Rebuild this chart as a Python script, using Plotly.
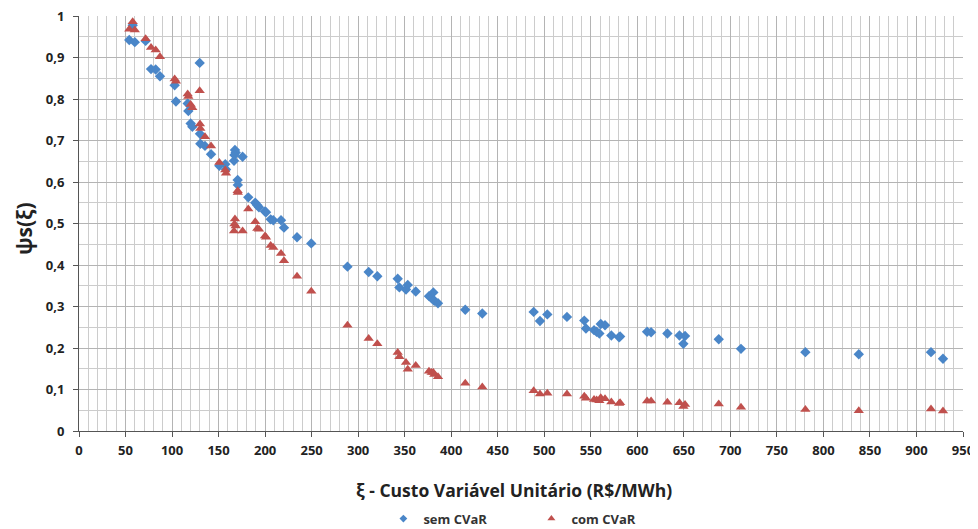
import plotly.graph_objects as go

# Custo variável unitário (R$/MWh)
xi = [54, 57.7, 60, 71.6, 77.4, 82.4, 87, 102.8, 104.2, 116.8,
      117.5, 120, 121.8, 129.7, 130, 130.4, 135.4, 141.9, 150.8, 157.2,
      158, 166.6, 167.6, 168.4, 167, 170.5, 170.7, 175.8, 181.9, 189.4,
      191.6, 193.4, 199.9, 201, 206, 208.8, 217.1, 220.3, 234.3, 249.6,
      288.5, 311.3, 320.6, 342.5, 344.3, 351.4, 353.3, 361.9, 376.1, 379,
      380.8, 381.8, 385.8, 415.1, 433.4, 488.6, 495.4, 503.3, 524.4, 543,
      544.8, 553.5, 556.3, 559.2, 560.7, 565.3, 572.1, 580.4, 581.5, 610.5,
      614.8, 632.3, 645.3, 649.5, 651.3, 687.5, 711.4, 780.6, 838, 915.6,
      928.5]

sem_cvar = [0.942, 0.978, 0.937, 0.940, 0.872, 0.871, 0.855, 0.833, 0.794, 0.789,
            0.771, 0.741, 0.733, 0.887, 0.716, 0.692, 0.687, 0.667, 0.639, 0.643,
            0.630, 0.651, 0.677, 0.671, 0.665, 0.605, 0.593, 0.661, 0.563, 0.550,
            0.544, 0.539, 0.529, 0.527, 0.510, 0.508, 0.508, 0.490, 0.467, 0.452,
            0.396, 0.383, 0.373, 0.367, 0.346, 0.341, 0.352, 0.336, 0.325, 0.320,
            0.334, 0.314, 0.308, 0.292, 0.283, 0.287, 0.265, 0.281, 0.275, 0.266,
            0.247, 0.243, 0.239, 0.235, 0.258, 0.255, 0.230, 0.226, 0.228, 0.239,
            0.238, 0.235, 0.230, 0.210, 0.229, 0.221, 0.198, 0.190, 0.185, 0.190,
            0.174]

com_cvar = [0.968, 0.986, 0.966, 0.945, 0.924, 0.918, 0.902, 0.848, 0.843, 0.812,
            0.806, 0.787, 0.779, 0.820, 0.740, 0.729, 0.709, 0.687, 0.647, 0.629,
            0.621, 0.482, 0.511, 0.494, 0.499, 0.579, 0.575, 0.482, 0.535, 0.504,
            0.488, 0.486, 0.470, 0.467, 0.447, 0.442, 0.428, 0.410, 0.373, 0.337,
            0.255, 0.223, 0.210, 0.189, 0.179, 0.165, 0.149, 0.158, 0.144, 0.141,
            0.141, 0.136, 0.131, 0.115, 0.106, 0.097, 0.089, 0.091, 0.089, 0.084,
            0.079, 0.076, 0.075, 0.073, 0.080, 0.078, 0.070, 0.066, 0.068, 0.072,
            0.072, 0.069, 0.068, 0.059, 0.064, 0.065, 0.057, 0.052, 0.049, 0.053,
            0.048]

FONT = "Open Sans"
BLUE = "#4A86C8"
RED = "#C0504D"

fig = go.Figure()
fig.add_trace(go.Scatter(x=xi, y=sem_cvar, mode="markers", name="sem CVaR",
                         showlegend=False, legendgroup="sem",
                         marker=dict(symbol="diamond", size=8, color=BLUE)))
fig.add_trace(go.Scatter(x=xi, y=com_cvar, mode="markers", name="com CVaR",
                         showlegend=False, legendgroup="com",
                         marker=dict(symbol="triangle-up", size=9, color=RED)))
# legend entries with smaller symbols, as in the reference
fig.add_trace(go.Scatter(x=[None], y=[None], mode="markers", name="sem CVaR",
                         legendgroup="sem",
                         marker=dict(symbol="diamond", size=6, color=BLUE)))
fig.add_trace(go.Scatter(x=[None], y=[None], mode="markers", name="com CVaR",
                         legendgroup="com",
                         marker=dict(symbol="triangle-up", size=7, color=RED)))

axis_common = dict(
    showgrid=True, gridcolor="#b4b4b4", gridwidth=1,
    showline=True, linecolor="#555555", linewidth=1,
    ticks="outside", ticklen=5, tickcolor="#555555",
    tickfont=dict(size=13, family=FONT, color="#222222", weight="bold"),
    zeroline=False, automargin=False, ticklabeloverflow="allow",
)

fig.update_layout(
    width=970, height=521,
    margin=dict(l=71, r=15, t=8, b=98, autoexpand=False),
    plot_bgcolor="white", paper_bgcolor="white",
    separators=", ",
    font=dict(family=FONT, color="#222222"),
    showlegend=True,
    legend=dict(orientation="h", xref="container", yref="container",
                x=0.387, xanchor="left", y=0.02, yanchor="middle",
                font=dict(size=13, family=FONT, color="#333333", weight="bold"),
                entrywidth=103, entrywidthmode="pixels"),
    xaxis=dict(range=[0, 950], dtick=50, tick0=0, ticklabelstandoff=2,
               minor=dict(dtick=10, showgrid=True, gridcolor="#cccccc", gridwidth=1),
               **axis_common),
    yaxis=dict(range=[0, 1], dtick=0.1, tick0=0, ticklabelstandoff=6,
               minor=dict(dtick=0.05, showgrid=True, gridcolor="#cccccc", gridwidth=1),
               **axis_common),
    annotations=[
        dict(text="ξ - Custo Variável Unitário (R$/MWh)", xref="paper", yref="paper",
             x=0.492, y=-0.142, xanchor="center", yanchor="middle", showarrow=False,
             font=dict(size=17.5, family=FONT, color="#222222", weight="bold")),
        dict(text="ψs(ξ)", xref="paper", yref="paper",
             x=-0.062, y=0.487, xanchor="center", yanchor="middle", showarrow=False,
             textangle=-90,
             font=dict(size=21, family=FONT, color="#222222", weight="bold")),
    ],
)

fig.write_html("out.html")
